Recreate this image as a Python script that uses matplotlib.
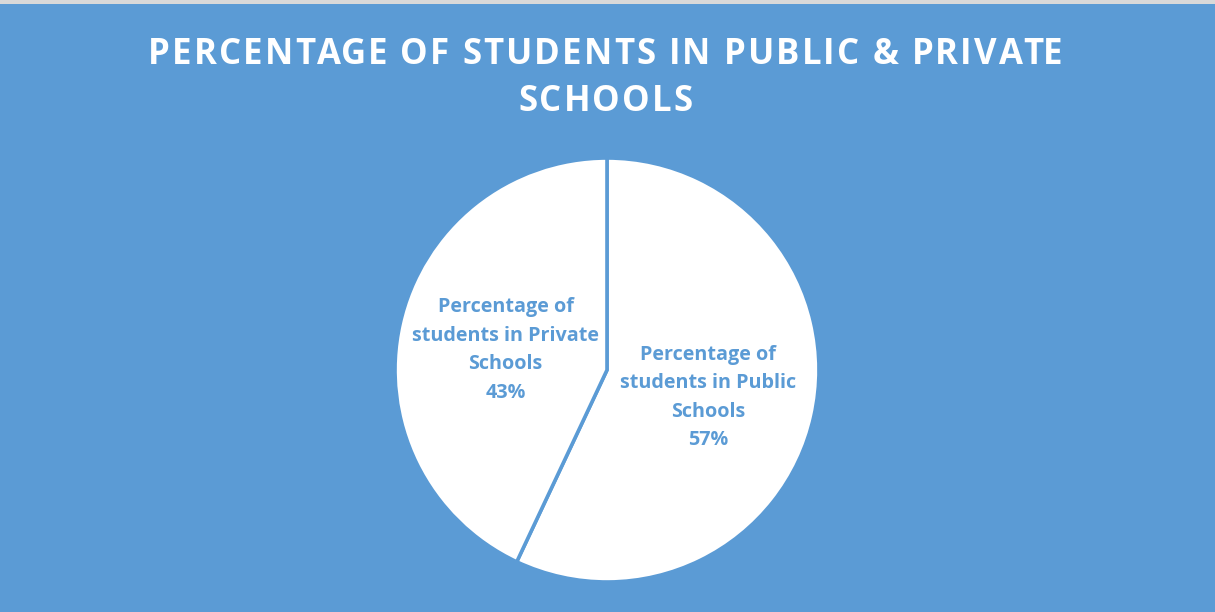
import matplotlib
matplotlib.use("Agg")
import matplotlib.pyplot as plt
from matplotlib.patches import Rectangle
from matplotlib.transforms import offset_copy

# ---- data ----
title_lines = ["PERCENTAGE OF STUDENTS IN PUBLIC & PRIVATE", "SCHOOLS"]
categories = ["Percentage of\nstudents in Public\nSchools", "Percentage of\nstudents in Private\nSchools"]
values = [57, 43]

BLUE = "#5B9BD5"
W, H = 1215, 612
fig = plt.figure(figsize=(W / 100, H / 100), dpi=100)
fig.patch.set_facecolor(BLUE)
fig.patches.append(Rectangle((0, (H - 4) / H), 1, 4 / H, transform=fig.transFigure,
                             facecolor="#D9D9D9", edgecolor="none", zorder=5))

ax = fig.add_axes([(607 - 212) / W, (H - 582) / H, 424 / W, 424 / H])
ax.set_facecolor(BLUE)
wedges, texts = ax.pie(values, labels=[f"{c}\n{v}%" for c, v in zip(categories, values)],
                       startangle=90, counterclock=False, colors=["white", "white"],
                       labeldistance=0.49,
                       wedgeprops=dict(edgecolor=BLUE, linewidth=2.6))
for t, dy in zip(texts, [-3.5, -2.0]):
    t.set_ha("center")
    t.set_va("center")
    t.set_multialignment("center")
    t.set_color(BLUE)
    t.set_fontsize(14.2)
    t.set_fontweight("bold")
    t.set_family("Open Sans")
    t.set_linespacing(1.57)
    t.set_transform(offset_copy(ax.transData, fig=fig, x=0, y=dy, units="points"))
ax.set_xlim(-1, 1)
ax.set_ylim(-1, 1)
ax.set_aspect("equal")
ax.axis("off")

# title with letter spacing
renderer = fig.canvas.get_renderer()
fs = 25
spacing = 2.1
kw = dict(fontsize=fs, fontweight="bold", family="Open Sans", color="white")

def width(s):
    t = fig.text(0, 0, s + "|", **kw)
    w1 = t.get_window_extent(renderer).width
    t.remove()
    t = fig.text(0, 0, "|", **kw)
    w2 = t.get_window_extent(renderer).width
    t.remove()
    return w1 - w2

for line, yb in zip(title_lines, [63.5, 111]):
    total = width(line) + spacing * (len(line) - 1)
    x0 = 605.5 - total / 2
    for i, ch in enumerate(line):
        if ch == " ":
            continue
        x = x0 + width(line[:i]) + spacing * i
        fig.text(x / W, 1 - yb / H, ch, ha="left", va="baseline", **kw)

fig.savefig("out.png", dpi=100, facecolor=BLUE)
